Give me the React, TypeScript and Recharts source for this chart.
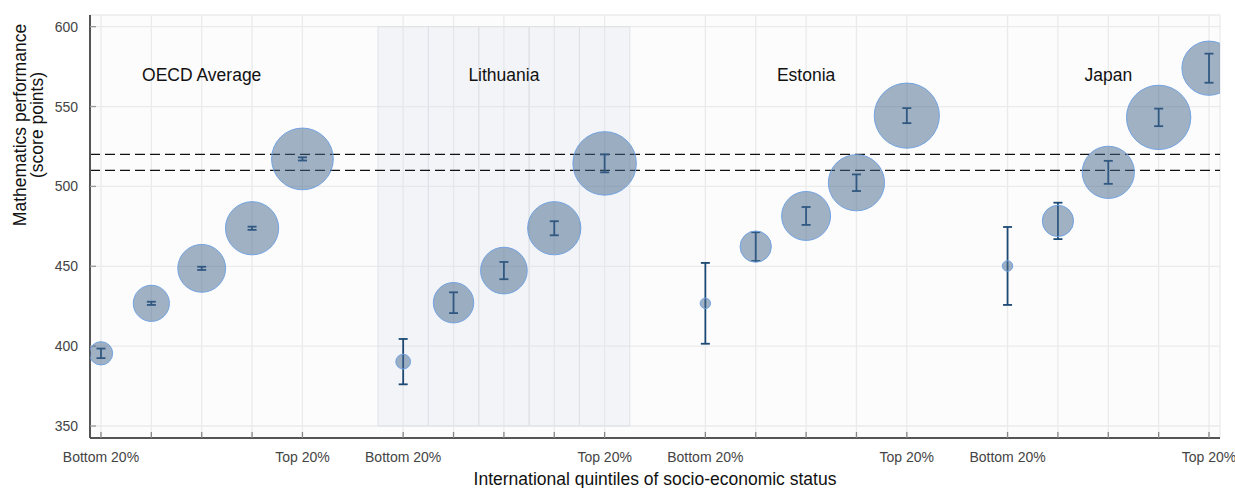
import React from 'react';
import {
  ScatterChart,
  Scatter,
  XAxis,
  YAxis,
  ZAxis,
  CartesianGrid,
  ReferenceLine,
  ReferenceArea,
  ErrorBar,
  Label,
} from 'recharts';

// ---- data ----
const groups = ['OECD Average', 'Lithuania', 'Estonia', 'Japan'];
const quintileLabels = ['Bottom 20%', '', '', '', 'Top 20%'];

const oecdMean = [395.5, 426.8, 448.7, 473.8, 517.2];
const oecdErr = [3, 1, 1, 1, 1];
const oecdShare = [5, 12, 21, 26, 35];

const lithuaniaMean = [390.3, 427.2, 447.3, 473.8, 514.4];
const lithuaniaErr = [14.2, 6.5, 5.4, 4.4, 5.6];
const lithuaniaShare = [2, 15, 20, 26, 37];

const estoniaMean = [426.8, 462.3, 481.5, 502.3, 544.3];
const estoniaErr = [25.3, 9, 5.6, 5.2, 4.7];
const estoniaShare = [1, 9, 22, 29, 39];

const japanMean = [450.2, 478.4, 508.8, 543.2, 574.0];
const japanErr = [24.4, 11.4, 7.2, 5.5, 9.1];
const japanShare = [1, 9, 25, 38, 27];

const benchmarkLines = [520, 510];
const yTicks = [350, 400, 450, 500, 550, 600];
const groupLabelY = 566;
const highlightedGroup = 1; // Lithuania

// ---- derived tables ----
const seriesByGroup = [
  { mean: oecdMean, err: oecdErr, share: oecdShare },
  { mean: lithuaniaMean, err: lithuaniaErr, share: lithuaniaShare },
  { mean: estoniaMean, err: estoniaErr, share: estoniaShare },
  { mean: japanMean, err: japanErr, share: japanShare },
];
const SLOT = 6; // 5 quintiles + 1 empty slot between groups

const points = seriesByGroup.flatMap((s, gi) =>
  s.mean.map((m, qi) => ({
    x: gi * SLOT + qi,
    y: m,
    err: s.err[qi],
    share: s.share[qi],
  }))
);
const xTicks = points.map((p) => p.x);
const labelData = groups.map((name, gi) => ({ x: gi * SLOT + 2, y: groupLabelY, name }));
const bandCells = [0, 1, 2, 3, 4].map((qi) => highlightedGroup * SLOT + qi);

const FONT = '"Liberation Sans", Arial, Helvetica, sans-serif';

const GroupLabel = (props: any) => {
  const { cx, cy, payload } = props;
  return (
    <text x={cx} y={cy} textAnchor="middle" fontSize={17.5} fill="#111" fontFamily={FONT}>
      {payload.name}
    </text>
  );
};

const Empty = () => <g />;

export default function App() {
  return (
    <div style={{ width: 1235, height: 488 }}>
      <style>{'html,body{margin:0;padding:0;}'}</style>
      <ScatterChart
        width={1235}
        height={488}
        margin={{ top: 15, right: 15, bottom: 0, left: 0 }}
        style={{ fontFamily: FONT }}
      >
        <CartesianGrid fill="#fcfcfc" stroke="#ebebeb" strokeWidth={1.3} />
        {bandCells.map((c) => (
          <ReferenceArea
            key={c}
            x1={c - 0.5}
            x2={c + 0.5}
            y1={350}
            y2={600}
            fill="#d4dbe6"
            fillOpacity={0.22}
            stroke="#dfe2e7"
            strokeWidth={1}
          />
        ))}
        <XAxis
          type="number"
          dataKey="x"
          domain={[-0.218, 22.218]}
          ticks={xTicks}
          interval={0}
          allowDataOverflow
          tickFormatter={(v: number) => quintileLabels[v % SLOT] || ''}
          tickSize={-6}
          tickMargin={20}
          height={50}
          axisLine={{ stroke: '#555', strokeWidth: 2 }}
          tickLine={{ stroke: '#888', strokeWidth: 1.3 }}
          tick={{ fill: '#444', fontSize: 14 }}
        >
          <Label
            content={() => (
              <text x={655} y={485} textAnchor="middle" fontSize={17.5} fill="#111" fontFamily={FONT}>
                International quintiles of socio-economic status
              </text>
            )}
          />
        </XAxis>
        <YAxis
          type="number"
          dataKey="y"
          domain={[342.5, 607.3]}
          ticks={yTicks}
          allowDataOverflow
          width={90}
          tickSize={-6}
          tickMargin={18}
          axisLine={{ stroke: '#555', strokeWidth: 2 }}
          tickLine={{ stroke: '#999', strokeWidth: 1.3 }}
          tick={{ fill: '#444', fontSize: 14 }}
        >
          <Label
            content={() => (
              <g>
                <text
                  transform="translate(20,125) rotate(-90)"
                  textAnchor="middle"
                  dominantBaseline="central"
                  fontSize={17.5}
                  fill="#111"
                  fontFamily={FONT}
                >
                  Mathematics performance
                </text>
                <text
                  transform="translate(37,125) rotate(-90)"
                  textAnchor="middle"
                  dominantBaseline="central"
                  fontSize={17.5}
                  fill="#111"
                  fontFamily={FONT}
                >
                  (score points)
                </text>
              </g>
            )}
          />
        </YAxis>
        <ZAxis type="number" dataKey="share" domain={[0, 40]} range={[0, 3420]} />
        {benchmarkLines.map((v) => (
          <ReferenceLine key={v} y={v} stroke="#111" strokeWidth={1.3} strokeDasharray="10 5" />
        ))}
        <Scatter
          data={points}
          fill="#44668c"
          fillOpacity={0.5}
          stroke="#72a3e2"
          strokeWidth={1}
          isAnimationActive={false}
        />
        <Scatter data={points} shape={Empty} isAnimationActive={false}>
          <ErrorBar dataKey="err" direction="y" width={4.5} stroke="#1d4a74" strokeWidth={1.8} />
        </Scatter>
        <Scatter data={labelData} shape={GroupLabel} isAnimationActive={false} />
      </ScatterChart>
    </div>
  );
}
